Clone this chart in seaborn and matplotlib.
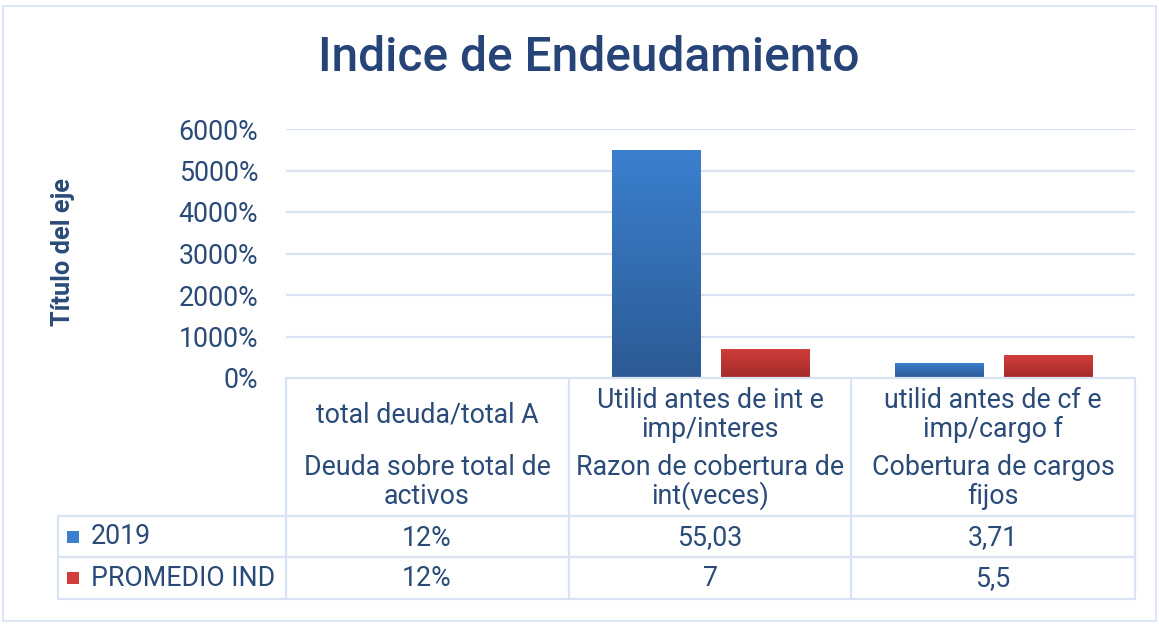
import numpy as np
import pandas as pd
import matplotlib
matplotlib.use("Agg")
import matplotlib.pyplot as plt
import seaborn as sns
from matplotlib.ticker import PercentFormatter, MultipleLocator
from matplotlib.lines import Line2D
from matplotlib.patches import Rectangle
from matplotlib.colors import LinearSegmentedColormap

# ---------------- data ----------------
categories = ["total deuda/total A", "Utilid antes de int e\nimp/interes", "utilid antes de cf e\nimp/cargo f"]
subtitles = ["Deuda sobre total de\nactivos", "Razon de cobertura de\nint(veces)", "Cobertura de cargos\nfijos"]
series_names = ["2019", "PROMEDIO IND"]
values_2019 = [0.12, 55.03, 3.71]
values_prom = [0.12, 7.0, 5.5]
table_2019 = ["12%", "55,03", "3,71"]
table_prom = ["12%", "7", "5,5"]
y_ticks = [0, 10, 20, 30, 40, 50, 60]

df = pd.DataFrame({
    "cat": categories * 2,
    "serie": [series_names[0]] * 3 + [series_names[1]] * 3,
    "valor": values_2019 + values_prom,
})

W, H = 1159, 626
def fx(x): return x / W
def fy(y): return 1 - y / H

sns.set_theme(style="white")
plt.rcParams["font.family"] = ["Roboto", "DejaVu Sans"]
TXT = "#2A4A78"
GRID = "#D9E3F3"
BLUE_T, BLUE_B = "#3B80CF", "#2C5A94"
RED_T, RED_B = "#D03E3B", "#A32B29"
FS = 19.3

fig = plt.figure(figsize=(W / 100, H / 100), dpi=100)
ax = fig.add_axes([fx(286), fy(378), fx(1135) - fx(286), fy(129) - fy(378)])

sns.barplot(data=df, x="cat", y="valor", hue="serie", order=categories,
            hue_order=series_names, palette=[BLUE_T, RED_T], width=0.77, gap=0.19,
            legend=False, ax=ax, linewidth=0)

ax.set_xlim(-0.5, 2.5)
ax.set_ylim(0, 60)
ax.yaxis.set_major_locator(MultipleLocator(10))
ax.yaxis.set_major_formatter(PercentFormatter(xmax=1, decimals=0))
ax.set_xticks([])
ax.set_xlabel("")
ax.set_ylabel("")
for s in ax.spines.values():
    s.set_visible(False)
ax.tick_params(axis="y", length=0, pad=20, labelsize=FS, labelcolor=TXT)
for t in y_ticks[1:]:
    ax.axhline(t, color=GRID, lw=1.6, zorder=0)

# gradient fill on bars
grad = np.linspace(1, 0, 256).reshape(-1, 1)
cm_b = LinearSegmentedColormap.from_list("b", [BLUE_B, BLUE_T])
cm_r = LinearSegmentedColormap.from_list("r", [RED_B, RED_T])
for i, p in enumerate(ax.patches):
    h = p.get_height()
    if h <= 0:
        continue
    x0, w = p.get_x(), p.get_width()
    cmap = cm_b if i < 3 else cm_r
    im = ax.imshow(grad, cmap=cmap, extent=[x0, x0 + w, 0, h], aspect="auto",
                   origin="upper", zorder=p.get_zorder() + 0.1, vmin=0, vmax=1)
    im.set_clip_path(p)
ax.set_xlim(-0.5, 2.5)
ax.set_ylim(0, 60)

# y axis title
fig.text(fx(63), fy(252), "Título del eje", rotation=90, ha="center", va="center",
         fontsize=18.3, fontweight="bold", color=TXT)

# title
fig.text(fx(589), fy(58), "Indice de Endeudamiento", ha="center", va="center",
         fontsize=34.5, fontweight="medium", color="#264478")

# ---------------- data table ----------------
def hline(y, x0, x1):
    fig.add_artist(Line2D([fx(x0), fx(x1)], [fy(y), fy(y)], color=GRID, lw=1.6))
def vline(x, y0, y1):
    fig.add_artist(Line2D([fx(x), fx(x)], [fy(y0), fy(y1)], color=GRID, lw=1.6))

hline(378, 286, 1135)
hline(516, 58, 1135)
hline(557, 58, 1135)
hline(599, 58, 1135)
for x in [286, 569, 851, 1135]:
    vline(x, 378, 599)
vline(58, 516, 599)

col_centers = [427, 710, 993]
for c, lab, sub, v1, v2 in zip(col_centers, categories, subtitles, table_2019, table_prom):
    fig.text(fx(c), fy(415), lab, ha="center", va="center", fontsize=FS,
             color=TXT, linespacing=1.05)
    fig.text(fx(c), fy(482), sub, ha="center", va="center", fontsize=FS,
             color=TXT, linespacing=1.05)
    fig.text(fx(c), fy(538), v1, ha="center", va="center", fontsize=FS, color=TXT)
    fig.text(fx(c), fy(579), v2, ha="center", va="center", fontsize=FS, color=TXT)

for yc, name, col in [(537, series_names[0], BLUE_T), (578, series_names[1], RED_T)]:
    fig.add_artist(Rectangle((fx(67), fy(yc + 6)), fx(12), fy(yc - 6) - fy(yc + 6),
                             facecolor=col, edgecolor="none"))
    fig.text(fx(91), fy(yc), name, ha="left", va="center", fontsize=FS, color=TXT)

# outer frame
fig.add_artist(Rectangle((fx(3), fy(621)), fx(1156) - fx(3), fy(6) - fy(621),
                         fill=False, edgecolor="#D6E4F7", lw=1.2))

fig.savefig("out.png", dpi=100)
